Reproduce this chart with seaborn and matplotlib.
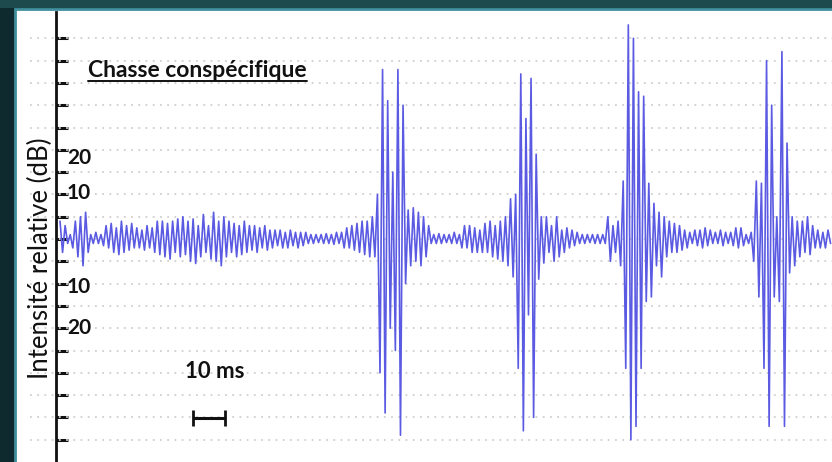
import numpy as np
import matplotlib
matplotlib.use("Agg")
import matplotlib.pyplot as plt
import seaborn as sns
from matplotlib.patches import Rectangle

sns.set_style("white")
plt.rcParams['font.family'] = ['Lato', 'DejaVu Sans']

# ---- waveform extrema (relative dB units), read left to right ----
noise_before = [4, -3, 3, -1, 1,
                -2, 4, -4, 5, -6, 6, -3,
                1, -1, 1.5, -1, 1, -1.5,
                3, -2, 3.5, -3, 2.5, -3.5, 4, -3, 3, -2.5, 3.5,
                -2, 2.5, -2, 2, -2.5, 3, -2, 2.5, -3,
                4, -3.5, 4, -4, 3.5, -4.5, 4, -3,
                4.5, -4, 5, -3.5, 4, -5, 4.5, -5.5, 3, -4, 5.5, -3, 3, -4.5, 6, -5,
                4, -6, 5, -4,
                4, -3, 3.5, -4, 3, -3.5, 4, -3, 3, -2.5, 3, -3, 2.5, -2, 3, -2.5, 2,
                -2, 2, -1.5, 2, -2, 1.5, -2, 2, -1.5, 1.5, -2, 1.5, -1.5, 1.5, -1,
                1, -1, 1, -0.8, 1, -1, 1.2, -1, 1, -1.2, 1.5, -1, 1.5,
                -2, 2.5, -2, 3, -2.5, 3.5, -3, 4, -3.5, 4, -4, 5, -4]
burst_1 = [10, -30, 38, -39, 31, -20, 15, -25, 38, -44, 30, -10, 6.5]
gap_1 = [-6, 7, -5, 6, -6, 5, -4, 3,
         -1, 1, -1, 1.2, -1, 1, -0.8, 1, -1, 1.5, -1, 1,
         -2, 3, -2, 3, -3, 2.5, -3, 2,
         -3, 3.5, -3, 4, -4, 3, -4.5, 4, -5, 5, -6]
burst_2 = [9, -8.5, 10, -29, 37, -43, 27, -17, 36, -40, 19, -9, 5]
gap_2 = [-5.4, 5, -3, 3, -5, 5, -4, 2, -3, 2.5, -2, 2, -1.5, 1.5,
         -1, 1, -1, 1, -0.8, 1, -1, 1, -1, 1, -1,
         5, -5, 3, -3, 4, -6]
burst_3 = [13, -29, 48, -45, 45, -42, 33, -29, 32, -14, 12.5, -13, 8, -6, 6, -8.5, 5]
gap_3 = [-4, 4, -3, 3.5, -3, 3, -2.5, 2, -2,
         1.5, -1, 2, -1.5, 2, -2, 2.5, -1.5, 2, -1, 1.5, -1, 2, -1.5, 1.5,
         -1, 1.5, -1.5, 2.5, -2, 2.5, -1.5, 1, -1, 1.5]
burst_4 = [-5, 13, -13, 12.5, -29, 40, -42, 30, -13, 5, -14, 42, -42, 21.5, -7.6, 5, -6, 4]
tail = [-4, 4, -3, 5, -3.5, 3, -2, 2, -2, 1.5, -2, 2, -1]

t_start_ms = 1.25
sample_step_ms = 0.8

y_ticks_db = list(range(-45, 50, 5))
label_texts = ["20", "10", "10", "20"]
label_positions_db = [18.2, 10.3, -10.8, -20.0]

title_text = "Chasse conspécifique"
y_label_text = "Intensité relative (dB)"
scale_text = "10 ms"
scale_length_ms = 10

amplitude = np.array(noise_before + burst_1 + gap_1 + burst_2 + gap_2
                     + burst_3 + gap_3 + burst_4 + tail, dtype=float)
time_ms = t_start_ms + sample_step_ms * np.arange(len(amplitude))

# ---- figure ----
W, H = 832, 462
fig = plt.figure(figsize=(W / 100, H / 100), dpi=100)
fig.patch.set_facecolor("#0e2a2f")

# decorative teal strip of background at the top
fig.patches.append(Rectangle((0, 1 - 8 / H), 1, 8 / H, transform=fig.transFigure,
                             facecolor="#1d4a4c", edgecolor="none", zorder=0))

ax = fig.add_axes([16 / W, 0, (W - 16) / W, (H - 10) / H])
ax.set_facecolor("white")

# frame line of the white panel
fig.patches.append(Rectangle((14.5 / W, -0.01), (W - 14) / W, (H - 8.5) / H + 0.01,
                             transform=fig.transFigure, facecolor="none",
                             edgecolor="#3f8f9c", linewidth=2.0, zorder=5))

px_per_ms = 3.2
px_per_db = 4.46
x_left = (16 - 56) / px_per_ms
x_right = (W - 56) / px_per_ms
ax.set_xlim(x_left, x_right)
ax.set_ylim(-(H - 239) / px_per_db, (239 - 10) / px_per_db)

# dotted grid
ax.hlines(y_ticks_db, (30 - 56) / px_per_ms, x_right, colors="#cfcfcf",
          linestyles=(0, (1, 3)), linewidth=1.3, zorder=1)

sns.lineplot(x=time_ms, y=amplitude, ax=ax, color="#5a5ae2", linewidth=1.2,
             estimator=None, sort=False, zorder=3)

for s in ["top", "right", "bottom"]:
    ax.spines[s].set_visible(False)
ax.spines["left"].set_position(("data", 0))
ax.spines["left"].set_linewidth(2.0)
ax.spines["left"].set_color("#111111")
ax.spines["left"].set_bounds(-50, (239 - 12) / px_per_db)
ax.set_yticks(y_ticks_db)
ax.set_yticklabels([])
ax.set_xticks([])
ax.tick_params(axis="y", direction="in", length=8.5, width=2.2, color="#111111", left=True)
ax.set_xlabel("")
ax.set_ylabel("")

for txt, pos in zip(label_texts, label_positions_db):
    ax.text((67 - 56) / px_per_ms, pos, txt, fontsize=15, fontweight="bold",
            color="#111111", ha="left", va="center", zorder=4)

ax.text((40 - 56) / px_per_ms, (239 - 258) / px_per_db, y_label_text, rotation=90,
        fontsize=18.5, color="#111111", ha="center", va="center", zorder=4)

title = ax.text((88 - 56) / px_per_ms, (239 - 77) / px_per_db, title_text,
                fontsize=16.5, fontweight="bold", color="#111111", ha="left",
                va="baseline", zorder=4)
fig.canvas.draw()
bb = title.get_window_extent().transformed(ax.transData.inverted())
ul_y = (239 - 80.5) / px_per_db
ax.plot([bb.x0, bb.x1], [ul_y, ul_y], color="#111111", linewidth=1.4, zorder=4)

ax.text((185 - 56) / px_per_ms, (239 - 378) / px_per_db, scale_text,
        fontsize=16, fontweight="bold", color="#111111", ha="left",
        va="baseline", zorder=4)

sb_x0 = (193 - 56) / px_per_ms
sb_y = (239 - 418) / px_per_db
ax.plot([sb_x0, sb_x0 + scale_length_ms], [sb_y, sb_y], color="#111111",
        linewidth=2.2, solid_capstyle="butt", zorder=4)
for xe in (sb_x0, sb_x0 + scale_length_ms):
    ax.plot([xe, xe], [sb_y - 1.9, sb_y + 1.9], color="#111111", linewidth=2.0,
            solid_capstyle="butt", zorder=4)

fig.savefig("out.png", dpi=100, facecolor=fig.get_facecolor())
